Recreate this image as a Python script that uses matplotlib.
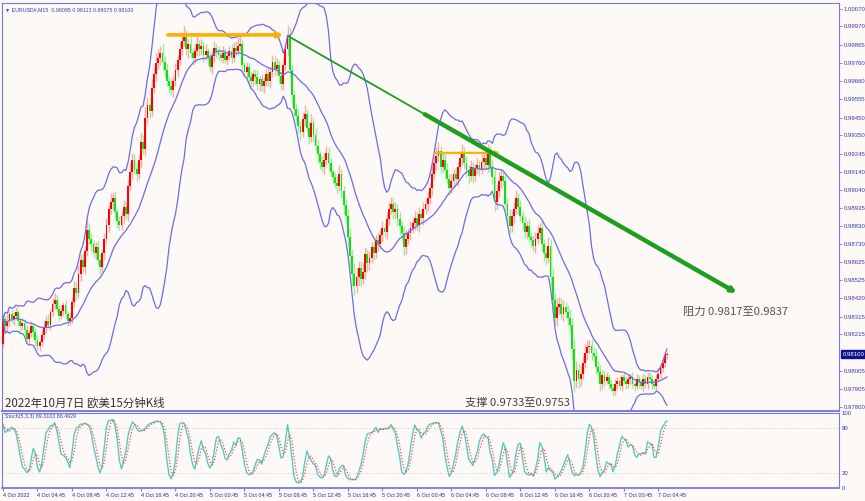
import numpy as np
import pandas as pd
import matplotlib
matplotlib.use('Agg')
import matplotlib.pyplot as plt

# ---------------- data ----------------
first_open = 0.9816
closes = [
    0.9830, 0.9826, 0.9829, 0.9833, 0.9830, 0.9832, 0.9834, 0.9829, 0.9826, 0.9828,
    0.9824, 0.9819, 0.9822, 0.9826, 0.9823, 0.9818, 0.9815, 0.9817, 0.9821, 0.9825,
    0.9829, 0.9827, 0.9834, 0.9839, 0.9841, 0.9836, 0.9832, 0.9835, 0.9838, 0.9833,
    0.9829, 0.9831, 0.9840, 0.9848, 0.9845, 0.9856, 0.9864, 0.9860, 0.9869, 0.9881,
    0.9876, 0.9873, 0.9868, 0.9871, 0.9864, 0.9860, 0.9868, 0.9876, 0.9884, 0.9893,
    0.9897, 0.9899, 0.9891, 0.9886, 0.9884, 0.9889, 0.9894, 0.9890, 0.9906, 0.9914,
    0.9921, 0.9916, 0.9913, 0.9921, 0.9931, 0.9927, 0.9945, 0.9952, 0.9949, 0.9962,
    0.9970, 0.9976, 0.9979, 0.9982, 0.9977, 0.9972, 0.9966, 0.9963, 0.9961, 0.9966,
    0.9972, 0.9978, 0.9984, 0.9989, 0.9991, 0.9984, 0.9987, 0.9982, 0.9979, 0.9983,
    0.9987, 0.9984, 0.9986, 0.9981, 0.9983, 0.9979, 0.9974, 0.9980, 0.9985, 0.9983,
    0.9981, 0.9979, 0.9982, 0.9978, 0.9980, 0.9983, 0.9979, 0.9985, 0.9983, 0.9986,
    0.9987, 0.9975, 0.9971, 0.9974, 0.9968, 0.9966, 0.9970, 0.9968, 0.9964, 0.9967,
    0.9963, 0.9966, 0.9970, 0.9966, 0.9971, 0.9977, 0.9973, 0.9975, 0.9969, 0.9964,
    0.9975, 0.9984, 0.9992, 0.9972, 0.9958, 0.9950, 0.9946, 0.9940, 0.9937, 0.9944,
    0.9947, 0.9939, 0.9934, 0.9942, 0.9935, 0.9929, 0.9924, 0.9920, 0.9917, 0.9921,
    0.9925, 0.9919, 0.9914, 0.9911, 0.9908, 0.9906, 0.9913, 0.9903, 0.9895, 0.9889,
    0.9877, 0.9866, 0.9856, 0.9849, 0.9854, 0.9859, 0.9853, 0.9857, 0.9867, 0.9862,
    0.9865, 0.9871, 0.9868, 0.9875, 0.9873, 0.9878, 0.9882, 0.9880, 0.9887, 0.9893,
    0.9896, 0.9891, 0.9893, 0.9887, 0.9883, 0.9879, 0.9871, 0.9876, 0.9879, 0.9882,
    0.9885, 0.9888, 0.9884, 0.9890, 0.9888, 0.9893, 0.9896, 0.9899, 0.9905, 0.9913,
    0.9919, 0.9923, 0.9926, 0.9917, 0.9921, 0.9915, 0.9910, 0.9905, 0.9909, 0.9913,
    0.9910, 0.9917, 0.9922, 0.9925, 0.9919, 0.9915, 0.9912, 0.9917, 0.9912, 0.9916,
    0.9918, 0.9916, 0.9920, 0.9922, 0.9918, 0.9925, 0.9917, 0.9911, 0.9897, 0.9903,
    0.9909, 0.9912, 0.9909, 0.9896, 0.9889, 0.9883, 0.9889, 0.9893, 0.9899, 0.9894,
    0.9889, 0.9885, 0.9880, 0.9883, 0.9877, 0.9875, 0.9872, 0.9876, 0.9879, 0.9882,
    0.9873, 0.9868, 0.9865, 0.9872, 0.9854, 0.9841, 0.9831, 0.9837, 0.9839, 0.9833,
    0.9837, 0.9834, 0.9831, 0.9827, 0.9813, 0.9795, 0.9801, 0.9796, 0.9799, 0.9805,
    0.9811, 0.9814, 0.9815, 0.9811, 0.9809, 0.9803, 0.9800, 0.9793, 0.9798, 0.9795,
    0.9797, 0.9793, 0.9791, 0.9789, 0.9793, 0.9795, 0.9792, 0.9797, 0.9795, 0.9793,
    0.9796, 0.9797, 0.9793, 0.9792, 0.9796, 0.9794, 0.9792, 0.9796, 0.9793, 0.9797,
    0.9796, 0.9793, 0.9792, 0.9796, 0.9799, 0.9802, 0.9805, 0.98095, 0.98100,
]
# wick lengths in pips
wick_up = [
    3, 2, 4, 2, 3, 2, 3, 2, 2, 3,   2, 3, 2, 3, 2, 2, 3, 2, 3, 4,
    3, 4, 2, 3, 4, 3, 2, 3, 2, 3,   2, 3, 3, 4, 3, 5, 3, 4, 3, 6,
    4, 3, 2, 3, 4, 3, 2, 3, 4, 3,   5, 3, 4, 2, 3, 3, 4, 3, 4, 5,
    4, 3, 4, 3, 5, 4, 6, 5, 4, 5,   4, 6, 5, 4, 5, 3, 4, 3, 4, 3,
    4, 3, 4, 5, 6, 4, 3, 4, 3, 4,   5, 3, 4, 3, 4, 2, 3, 3, 4, 2,
    3, 2, 4, 3, 2, 3, 4, 3, 4, 5,   4, 3, 2, 3, 2, 3, 2, 3, 4, 2,
    3, 2, 3, 4, 3, 4, 3, 4, 3, 2,   4, 3, 5, 4, 3, 2, 3, 4, 3, 4,
    5, 3, 4, 5, 3, 4, 3, 2, 3, 4,   4, 3, 3, 2, 3, 4, 5, 3, 3, 4,
    4, 5, 4, 6, 5, 4, 4, 5, 4, 3,   4, 3, 4, 3, 5, 3, 4, 3, 4, 4,
    4, 3, 4, 3, 4, 3, 4, 5, 3, 4,   3, 4, 3, 4, 3, 4, 3, 4, 3, 5,
    4, 5, 5, 3, 4, 3, 4, 3, 4, 3,   4, 3, 4, 5, 3, 4, 3, 4, 3, 3,
    4, 3, 4, 3, 4, 5, 4, 4, 5, 4,   5, 4, 3, 4, 3, 4, 3, 4, 5, 3,
    4, 3, 4, 3, 4, 3, 3, 4, 5, 3,   4, 3, 4, 5, 4, 5, 4, 5, 4, 3,
    4, 3, 4, 5, 4, 6, 5, 4, 5, 4,   5, 4, 3, 4, 3, 4, 3, 4, 3, 3,
    3, 2, 3, 2, 3, 2, 3, 2, 3, 2,   3, 2, 3, 2, 3, 2, 2, 3, 2, 3,
    3, 2, 3, 2, 3, 3, 3, 2, 1.3,
]
wick_dn = [
    2, 3, 2, 3, 2, 3, 2, 3, 3, 2,   3, 2, 3, 2, 3, 3, 2, 3, 2, 2,
    3, 2, 3, 2, 3, 2, 3, 2, 3, 2,   3, 2, 3, 3, 4, 3, 4, 3, 4, 3,
    3, 4, 3, 4, 3, 4, 3, 4, 3, 4,   3, 4, 3, 4, 3, 3, 4, 3, 4, 3,
    4, 3, 4, 3, 4, 3, 4, 3, 4, 3,   3, 4, 3, 4, 5, 4, 3, 4, 3, 4,
    3, 4, 3, 4, 3, 4, 5, 3, 4, 3,   3, 4, 3, 4, 3, 4, 3, 4, 3, 4,
    3, 2, 3, 2, 3, 2, 3, 2, 3, 2,   3, 4, 3, 4, 3, 4, 3, 4, 3, 4,
    3, 4, 3, 3, 4, 3, 4, 3, 4, 3,   3, 3, 4, 4, 5, 4, 3, 4, 5, 3,
    4, 3, 4, 3, 4, 3, 5, 4, 3, 4,   3, 4, 3, 4, 3, 4, 3, 4, 5, 4,
    5, 6, 7, 5, 4, 5, 4, 3, 4, 5,   4, 3, 4, 3, 4, 3, 4, 3, 4, 3,
    3, 4, 3, 4, 5, 4, 5, 4, 3, 4,   3, 4, 3, 4, 3, 4, 3, 4, 3, 4,
    3, 4, 3, 4, 3, 4, 3, 4, 3, 4,   3, 4, 3, 4, 3, 4, 5, 3, 4, 3,
    3, 4, 3, 4, 3, 4, 3, 4, 5, 4,   3, 4, 3, 4, 5, 4, 3, 4, 3, 4,
    3, 4, 3, 4, 3, 4, 3, 4, 3, 4,   4, 5, 4, 3, 5, 6, 4, 5, 4, 3,
    4, 3, 4, 5, 6, 6, 4, 5, 4, 3,   3, 4, 3, 4, 3, 4, 3, 4, 3, 3,
    2, 3, 2, 3, 2, 3, 2, 3, 2, 3,   2, 3, 2, 3, 2, 3, 2, 3, 2, 3,
    2, 3, 2, 3, 2, 3, 2, 2, 2.0,
]

price_ticks = [1.00070, 0.99970, 0.99865, 0.99760, 0.99660, 0.99555, 0.99450,
               0.99350, 0.99245, 0.99140, 0.99040, 0.98935, 0.98830, 0.98730,
               0.98625, 0.98525, 0.98420, 0.98315, 0.98215, 0.98005, 0.97905,
               0.97800]
current_price = 0.98100
time_labels = ['4 Oct 2022', '4 Oct 04:45', '4 Oct 08:45', '4 Oct 12:45',
               '4 Oct 16:45', '4 Oct 20:45', '5 Oct 00:45', '5 Oct 04:45',
               '5 Oct 08:45', '5 Oct 12:45', '5 Oct 16:45', '5 Oct 20:45',
               '6 Oct 00:45', '6 Oct 04:45', '6 Oct 08:45', '6 Oct 12:45',
               '6 Oct 16:45', '6 Oct 20:45', '7 Oct 00:45', '7 Oct 04:45']
bars_per_label = 16
header = '\u25BC EURUSD#,M15  0.98095 0.98113 0.98075 0.98100'
stoch_header = 'Stoch(5,3,3) 89.3103 88.4929'
bb_period, bb_dev = 20, 3.0

# drawn objects (bar index, price)
orange1 = [(76.5, 0.99922), (130.0, 0.99922)]
orange2 = [(200.4, 0.99249), (230.5, 0.99249)]
trend_thin = [(132.2, 0.99916), (205.0, 0.99403)]
trend_thick = [(195.7, 0.99469), (340.4, 0.98450)]

title_cn = '2022年10月7日 欧美15分钟K线'
support_cn = '支撑 0.9733至0.9753'
resist_cn = '阻力 0.9817至0.9837'

# ---------------- derived ----------------
c = np.array(closes, dtype=float)
n = len(c)
idx = np.arange(n)
o = np.concatenate([[first_open], c[:-1]])
o[-1] = 0.98095
hi = np.maximum(o, c) + np.array(wick_up, dtype=float) * 1e-4
lo = np.minimum(o, c) - np.array(wick_dn, dtype=float) * 1e-4

s = pd.Series(c)
mid = s.rolling(bb_period, min_periods=1).mean()
sd = s.rolling(bb_period, min_periods=1).std(ddof=0)
upper = mid + bb_dev * sd
lower = mid - bb_dev * sd

hh = pd.Series(hi).rolling(5, min_periods=1).max()
ll = pd.Series(lo).rolling(5, min_periods=1).min()
num = (s - ll).rolling(3, min_periods=1).sum()
den = (hh - ll).rolling(3, min_periods=1).sum()
K = 100 * num / den
D = K.rolling(3, min_periods=1).mean()

# ---------------- style ----------------
bg = '#fdf9f7'
axis_blue = '#7a7ae6'
label_blue = '#3a3ab8'
small_font = ['Liberation Sans', 'DejaVu Sans']
W, H = 865, 501

fig = plt.figure(figsize=(W / 100, H / 100), dpi=100, facecolor=bg)
ax = fig.add_axes([2 / W, 1 - 411 / H, 837 / W, 408 / H], facecolor=bg)
ax2 = fig.add_axes([2 / W, 1 - 488 / H, 837 / W, 75.4 / H], facecolor=bg)

xlim = (-0.46, 387.8)

# candles
up = c >= o
wick_colors = np.where(up, '#ffa8a8', '#9eec9e')
body_colors = np.where(up, '#ff0000', '#12e012')
ax.vlines(idx, lo, hi, colors=wick_colors, linewidth=1.0, zorder=2)
ax.bar(idx, np.maximum(np.abs(c - o), 0.00002), bottom=np.minimum(o, c),
       width=0.85, color=body_colors, linewidth=0, zorder=3)

# bollinger
for band in (upper, mid, lower):
    ax.plot(idx, band, color='#6c6ce8', linewidth=0.9, zorder=4)

# drawings
ax.annotate('', xy=orange1[1], xytext=orange1[0],
            arrowprops=dict(arrowstyle='-|>', color='#ffb000', lw=2.6,
                            mutation_scale=7, shrinkA=0, shrinkB=0), zorder=6)
ax.annotate('', xy=orange2[1], xytext=orange2[0],
            arrowprops=dict(arrowstyle='-|>', color='#ffb000', lw=1.6,
                            mutation_scale=5, shrinkA=0, shrinkB=0), zorder=6)
ax.plot([p[0] for p in trend_thin], [p[1] for p in trend_thin],
        color='#1e9e1e', linewidth=1.3, zorder=6, solid_capstyle='butt')
ax.annotate('', xy=trend_thick[1], xytext=trend_thick[0],
            arrowprops=dict(arrowstyle='-|>', color='#1e9e1e', lw=3.2,
                            mutation_scale=6, shrinkA=0, shrinkB=0), zorder=6)

ax.set_xlim(*xlim)
ax.set_ylim(0.97777, 1.00104)
ax.set_xticks([])
ax.yaxis.tick_right()
ax.set_yticks(price_ticks)
ax.set_yticklabels([f'{v:.5f}' for v in price_ticks])
ax.tick_params(axis='y', length=2, width=0.6, color=axis_blue, pad=1.5,
               labelsize=4.3, labelcolor=label_blue)
for lab in ax.get_yticklabels():
    lab.set_family(small_font)
for sp in ax.spines.values():
    sp.set_color(axis_blue)
    sp.set_linewidth(0.8)
ax.spines['bottom'].set_linewidth(1.4)

# current price tag
ax.text(1.004, current_price, f'{current_price:.5f}',
        transform=ax.get_yaxis_transform(), ha='left', va='center',
        fontsize=4.3, color='white', family=small_font,
        bbox=dict(boxstyle='square,pad=0.25', facecolor='#10108c',
                  edgecolor='#10108c'), clip_on=False, zorder=10)

# stochastic
ax2.axhline(80, color='#c8c8c8', linestyle=(0, (1, 2)), linewidth=0.7)
ax2.axhline(20, color='#c8c8c8', linestyle=(0, (1, 2)), linewidth=0.7)
ax2.plot(idx, K, color='#55cbc3', linewidth=1.0, zorder=3)
ax2.plot(idx, D, color='#ff4a4a', linewidth=0.9, linestyle=(0, (1, 1.5)), zorder=4)
ax2.set_xlim(*xlim)
ax2.set_ylim(0, 100)
ax2.yaxis.tick_right()
ax2.set_yticks([0, 20, 80, 100])
ax2.set_yticklabels(['0', '20', '80', '100'])
ax2.tick_params(axis='y', length=0, pad=2, labelsize=4.3, labelcolor=label_blue)
tick_pos = [i * bars_per_label for i in range(len(time_labels))]
ax2.set_xticks(tick_pos)
ax2.set_xticklabels(time_labels, ha='left')
ax2.tick_params(axis='x', length=2.5, width=0.8, color=axis_blue, pad=0.8,
                labelsize=3.9, labelcolor='#2a2a90')
for lab in ax2.get_xticklabels() + ax2.get_yticklabels():
    lab.set_family(small_font)
for sp in ax2.spines.values():
    sp.set_color(axis_blue)
    sp.set_linewidth(0.8)
ax2.spines['bottom'].set_linewidth(1.3)

# texts
fig.text(5 / W, 1 - 10 / H, header, fontsize=3.8, color=label_blue,
         family=small_font, va='center', ha='left')
fig.text(5 / W, 1 - 416.5 / H, stoch_header, fontsize=3.8, color=label_blue,
         family=small_font, va='center', ha='left')
cjk = ['Noto Sans CJK SC', 'DejaVu Sans']
fig.text(5 / W, 1 - 403 / H, title_cn, fontsize=8.3, color='#333333',
         family=cjk, va='center', ha='left')
fig.text(465 / W, 1 - 403 / H, support_cn, fontsize=8.1, color='#444444',
         family=cjk, va='center', ha='left')
fig.text(683 / W, 1 - 312 / H, resist_cn, fontsize=8.1, color='#555555',
         family=cjk, va='center', ha='left')

fig.savefig('out.png', dpi=100, facecolor=bg)
